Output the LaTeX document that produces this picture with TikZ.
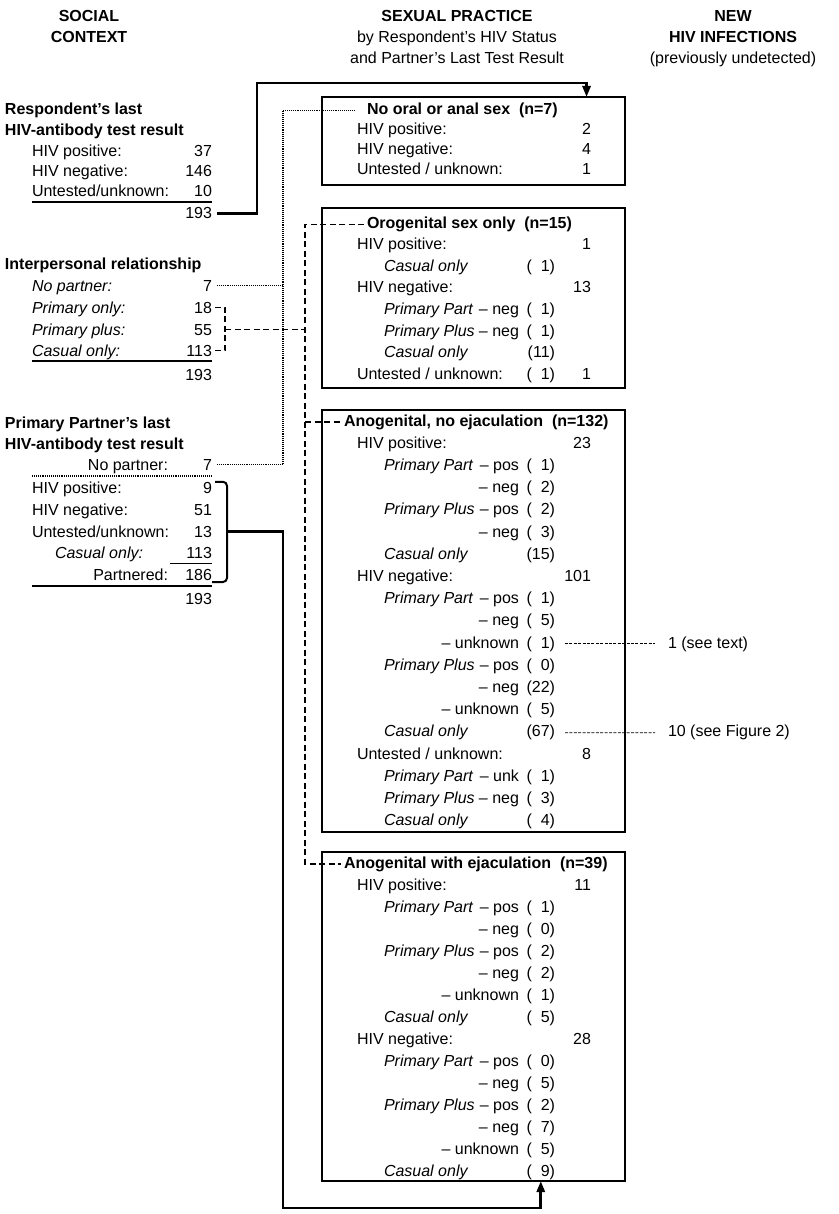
\documentclass[tikz,border=0pt]{standalone}
\usepackage{fontspec}
\setmainfont{Liberation Sans}
\usetikzlibrary{arrows.meta}

\newcommand{\bodyfs}{\fontsize{16}{21}\selectfont}
\newcommand{\parnum}[1]{(\ifnum#1<10 \phantom{0}\fi#1)}

\begin{document}
\begin{tikzpicture}[x=1pt, y=-1pt,
  txt/.style={inner sep=0pt, outer sep=0pt, font=\bodyfs},
  headb/.style={txt, anchor=base, font=\bodyfs\bfseries},
  headr/.style={txt, anchor=base},
  ttl/.style={txt, anchor=base west, font=\bodyfs\bfseries},
  lbl/.style={txt, anchor=base west},
  ilbl/.style={txt, anchor=base west, font=\bodyfs\itshape},
  num/.style={txt, anchor=base east},
  pbox/.style={draw, line width=1.2pt, inner sep=0pt, outer sep=0pt,
    anchor=north west, minimum width=303pt},
  heavy/.style={line width=2.7pt},
  endtip/.style={-{Triangle[width=8pt,length=11pt]}},
  dotline/.style={line width=1.1pt, dash pattern=on 1pt off 0.9pt},
  dashline/.style={line width=1.6pt, dash pattern=on 6pt off 3.5pt},
  noteline/.style={line width=0.8pt, dash pattern=on 3pt off 1.4pt},
  sumrule/.style={line width=2.3pt},
  thinrule/.style={line width=1pt},
  brk/.style={line width=2pt, rounded corners=4pt}]

  \useasboundingbox (0,0) rectangle (838,1214);

  % parameters
  \def\bx{322}   % left edge of the boxes
  \def\xa{357}   % status labels
  \def\xb{384}   % partner labels
  \def\xs{519}   % right edge of pos / neg
  \def\xp{555}   % right edge of (n)
  \def\xt{591}   % right edge of totals

  % column heads
  \node[headb] (hsoc1) at (89,22) {SOCIAL};
  \node[headb] (hsoc2) at (89,43) {CONTEXT};
  \node[headb] (hsex1) at (457,22) {SEXUAL PRACTICE};
  \node[headr] (hsex2) at (457,43) {by Respondent's HIV Status};
  \node[headr] (hsex3) at (457,64) {and Partner's Last Test Result};
  \node[headb] (hnew1) at (733,22) {NEW};
  \node[headb] (hnew2) at (733,43) {HIV INFECTIONS};
  \node[headr] (hnew3) at (733,64) {(previously undetected)};

  % respondent's test result
  \node[ttl] (s1h1) at (5,115) {Respondent's last};
  \node[ttl] (s1h2) at (5,136) {HIV-antibody test result};
  \foreach \i/\y/\lab/\val in {1/157/HIV positive:/37, 2/177/HIV negative:/146,
                               3/197/{Untested/unknown:}/10} {
    \node[lbl] (s1l\i) at (32,\y) {\lab};
    \node[num] (s1t\i) at (212,\y) {\val};
  }
  \draw[sumrule] ([yshift=-5pt]s1l3.base west) -- ([yshift=-5pt]s1t3.base east);
  \node[num] (s1tot) at (212,219) {193};

  % interpersonal relationship
  \node[ttl] (s2h) at (5,270) {Interpersonal relationship};
  \foreach \i/\y/\lab/\val in {1/291/No partner:/7, 2/313/Primary only:/18,
                               3/335/Primary plus:/55, 4/356/Casual only:/113} {
    \node[ilbl] (s2l\i) at (32,\y) {\lab};
    \node[num] (s2t\i) at (212,\y) {\val};
  }
  \draw[sumrule] ([yshift=-5pt]s2l4.base west) -- ([yshift=-5pt]s2t4.base east);
  \node[num] (s2tot) at (212,380) {193};

  % partner's test result
  \node[ttl] (s3h1) at (5,428) {Primary Partner's last};
  \node[ttl] (s3h2) at (5,449) {HIV-antibody test result};
  \node[num] (s3np) at (168,470) {No partner:};
  \node[num] (s3t0) at (212,470) {7};
  \draw[dotline] (32,476) -- ([yshift=-6pt]s3t0.base east);
  \foreach \i/\y/\lab/\val in {1/493/HIV positive:/9, 2/515/HIV negative:/51,
                               3/537/{Untested/unknown:}/13} {
    \node[lbl] (s3l\i) at (32,\y) {\lab};
    \node[num] (s3t\i) at (212,\y) {\val};
  }
  \node[ilbl] (s3l4) at (55,558) {Casual only:};
  \node[num] (s3t4) at (212,558) {113};
  \draw[thinrule] (170,563) -- ([yshift=-5pt]s3t4.base east);
  \node[num] (s3pt) at (168,580) {Partnered:};
  \node[num] (s3t5) at (212,580) {186};
  \draw[sumrule] (32,586) -- ([yshift=-6pt]s3t5.base east);
  \node[num] (s3tot) at (212,604) {193};

  % box 1: no oral or anal sex
  \node[pbox, minimum height=88pt] (box1) at (\bx,97) {};
  \node[ttl] (b1tit) at (367,115) {No oral or anal sex\ \ (n=7)};
  \foreach \k/\lab/\val in {1/HIV positive:/2, 2/HIV negative:/4,
                            3/{Untested / unknown:}/1} {
    \node[lbl] (b1l\k) at (\xa,115+20*\k) {\lab};
    \node[num] (b1t\k) at (\xt,115+20*\k) {\val};
  }

  % box 2: orogenital
  \node[pbox, minimum height=180pt] (box2) at (\bx,208) {};
  \def\yb{228.5}\def\ls{21.5}
  \node[ttl] (b2tit) at (367,\yb) {Orogenital sex only\ \ (n=15)};
  \foreach \k/\lab in {1/HIV positive:, 3/HIV negative:, 7/{Untested / unknown:}}
    \node[lbl] (b2l\k) at (\xa,\yb+\ls*\k) {\lab};
  \foreach \k/\val in {1/1, 3/13, 7/1}
    \node[num] (b2t\k) at (\xt,\yb+\ls*\k) {\val};
  \foreach \k/\lab in {2/Casual only, 4/Primary Part, 5/Primary Plus, 6/Casual only}
    \node[ilbl] (b2i\k) at (\xb,\yb+\ls*\k) {\lab};
  \foreach \k/\val in {4/neg, 5/neg}
    \node[num] (b2s\k) at (\xs,\yb+\ls*\k) {-- \val};
  \foreach \k/\val in {2/1, 4/1, 5/1, 6/11, 7/1}
    \node[num] (b2p\k) at (\xp,\yb+\ls*\k) {\parnum{\val}};

  % box 3: anogenital, no ejaculation
  \node[pbox, minimum height=422pt] (box3) at (\bx,410) {};
  \def\yb{426}\def\ls{22.2}
  \node[ttl] (b3tit) at (344,\yb) {Anogenital, no ejaculation\ \ (n=132)};
  \foreach \k/\lab in {1/HIV positive:, 7/HIV negative:, 15/{Untested / unknown:}}
    \node[lbl] (b3l\k) at (\xa,\yb+\ls*\k) {\lab};
  \foreach \k/\val in {1/23, 7/101, 15/8}
    \node[num] (b3t\k) at (\xt,\yb+\ls*\k) {\val};
  \foreach \k/\lab in {2/Primary Part, 4/Primary Plus, 6/Casual only,
                       8/Primary Part, 11/Primary Plus, 14/Casual only,
                       16/Primary Part, 17/Primary Plus, 18/Casual only}
    \node[ilbl] (b3i\k) at (\xb,\yb+\ls*\k) {\lab};
  \foreach \k/\val in {2/pos, 3/neg, 4/pos, 5/neg, 8/pos, 9/neg, 10/unknown,
                       11/pos, 12/neg, 13/unknown, 16/unk, 17/neg}
    \node[num] (b3s\k) at (\xs,\yb+\ls*\k) {-- \val};
  \foreach \k/\val in {2/1, 3/2, 4/2, 5/3, 6/15, 8/1, 9/5, 10/1, 11/0, 12/22,
                       13/5, 14/67, 16/1, 17/3, 18/4}
    \node[num] (b3p\k) at (\xp,\yb+\ls*\k) {\parnum{\val}};

  % new infections
  \node[lbl] (note1) at (668,\yb+\ls*10) {1 (see text)};
  \node[lbl] (note2) at (668,\yb+\ls*14) {10 (see Figure 2)};
  \draw[noteline] ([xshift=10pt]b3p10.east) -- ([xshift=-13pt]note1.west);
  \draw[noteline] ([xshift=10pt]b3p14.east) -- ([xshift=-13pt]note2.west);

  % box 4: anogenital with ejaculation
  \node[pbox, minimum height=329pt] (box4) at (\bx,852) {};
  \def\yb{868}\def\ls{22}
  \node[ttl] (b4tit) at (344,\yb) {Anogenital with ejaculation\ \ (n=39)};
  \foreach \k/\lab in {1/HIV positive:, 8/HIV negative:}
    \node[lbl] (b4l\k) at (\xa,\yb+\ls*\k) {\lab};
  \foreach \k/\val in {1/11, 8/28}
    \node[num] (b4t\k) at (\xt,\yb+\ls*\k) {\val};
  \foreach \k/\lab in {2/Primary Part, 4/Primary Plus, 7/Casual only,
                       9/Primary Part, 11/Primary Plus, 14/Casual only}
    \node[ilbl] (b4i\k) at (\xb,\yb+\ls*\k) {\lab};
  \foreach \k/\val in {2/pos, 3/neg, 4/pos, 5/neg, 6/unknown,
                       9/pos, 10/neg, 11/pos, 12/neg, 13/unknown}
    \node[num] (b4s\k) at (\xs,\yb+\ls*\k) {-- \val};
  \foreach \k/\val in {2/1, 3/0, 4/2, 5/2, 6/1, 7/5, 9/0, 10/5, 11/2, 12/7,
                       13/5, 14/9}
    \node[num] (b4p\k) at (\xp,\yb+\ls*\k) {\parnum{\val}};

  % connector columns
  \coordinate (hv1) at (257,83);
  \coordinate (dcol) at (283,0);
  \coordinate (dshc) at (305,0);
  \coordinate (brkc) at (225,0);
  \coordinate (sbk) at (227,0);
  \coordinate (sbb) at (227,582);
  \coordinate (hbot) at (283,1208);

  % respondent's result -> no oral or anal sex
  \draw[heavy, endtip] ([xshift=5pt]s1tot.east) -| (hv1) -| (box1.north -| b1t1);

  % no partner (dotted)
  \draw[dotline] ([xshift=5pt]s3t0.east) -| (dcol |- b1tit.west)
    -- ([xshift=-12pt]b1tit.west);
  \draw[dotline] ([xshift=5pt]s2t1.east) -- (dcol |- s2t1.east);

  % partnered (dashed)
  \draw[dashline] ([xshift=3pt]s2t2.east) -| (brkc |- s2t3.east)
    |- ([xshift=3pt]s2t4.east);
  \draw[dashline] (brkc |- s2t3.east) -- (dshc |- s2t3.east);
  \draw[dashline] ([xshift=-3pt]b2tit.west) -| (dshc |- b4tit.west)
    -- ([xshift=-3pt]b4tit.west);
  \draw[dashline] (dshc |- b3tit.west) -- ([xshift=-3pt]b3tit.west);

  % partner's result -> anogenital with ejaculation
  \draw[brk] ([xshift=3pt]s3t1.north east) -| (sbb) -- (s3t5.east |- sbb);
  \draw[heavy, endtip] (sbk |- s3t3.east) -| (hbot) -| (box4.south -| b4p14);

\end{tikzpicture}
\end{document}
